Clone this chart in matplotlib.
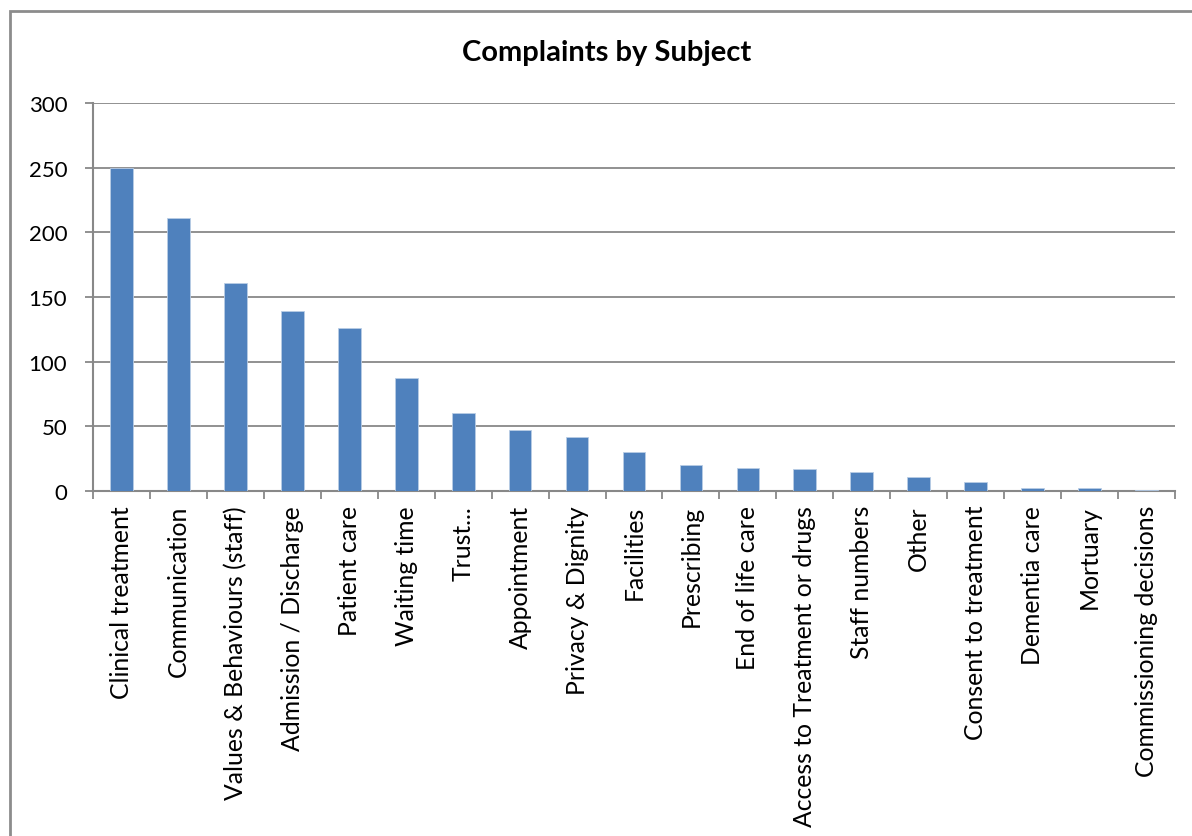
import matplotlib
matplotlib.use('Agg')
import matplotlib.pyplot as plt
import matplotlib.patches as mpatches
import numpy as np

# Complaint counts per subject, ordered largest first
subjects = [
    'Clinical treatment', 'Communication', 'Values & Behaviours (staff)',
    'Admission / Discharge', 'Patient care', 'Waiting time', 'Trust...',
    'Appointment', 'Privacy & Dignity', 'Facilities', 'Prescribing',
    'End of life care', 'Access to Treatment or drugs', 'Staff numbers',
    'Other', 'Consent to treatment', 'Dementia care', 'Mortuary',
    'Commissioning decisions',
]
counts = [250, 211, 161, 139, 126, 87, 60, 47, 42, 30, 20, 18, 17, 15, 11, 7, 2, 2, 1]
y_ticks = [0, 50, 100, 150, 200, 250, 300]

BAR_COLOR = '#4F81BD'
GRID_COLOR = '#888888'

plt.rcParams['font.family'] = ['Lato', 'DejaVu Sans']

W, H = 1192, 837
fig = plt.figure(figsize=(W / 100, H / 100), dpi=100)
fig.patch.set_facecolor('white')

# chart frame (only the left and top edges fall inside the image)
fig.patches.append(mpatches.Rectangle((10 / W, -0.1), 1.2, 1 - 12 / H + 0.1,
                                      transform=fig.transFigure, fill=False,
                                      edgecolor='#8c8c8c', linewidth=2.0))

ax = fig.add_axes([93 / W, 1 - 492 / H, (1175 - 93) / W, (492 - 104) / H])

x = np.arange(len(subjects))
ax.bar(x, counts, width=0.4, color=BAR_COLOR, edgecolor='#b9cde5',
       linewidth=0.6, zorder=3)

ax.set_xlim(-0.5, len(subjects) - 0.5)
ax.set_ylim(0, 300)
ax.set_yticks(y_ticks)
ax.set_yticklabels([str(v) for v in y_ticks], fontsize=16)
ax.yaxis.grid(True, color=GRID_COLOR, linewidth=1.3, zorder=0)

# category ticks sit between the bars, labels sit under each bar
ax.set_xticks(np.arange(len(subjects) + 1) - 0.5)
ax.set_xticklabels([])
ax.set_xticks(x, minor=True)
ax.set_xticklabels(subjects, minor=True, rotation=90, fontsize=17.8)
ax.tick_params(axis='x', which='minor', length=0, pad=10)
ax.tick_params(axis='x', which='major', length=6, width=1.3, color=GRID_COLOR,
               direction='out')
ax.tick_params(axis='y', length=6, width=1.3, color=GRID_COLOR, pad=12.5)

for side in ('top', 'right'):
    ax.spines[side].set_visible(False)
for side in ('left', 'bottom'):
    ax.spines[side].set_color(GRID_COLOR)
    ax.spines[side].set_linewidth(1.5)

fig.text(607 / W, 1 - 53 / H, 'Complaints by Subject', ha='center', va='center',
         fontsize=21, fontweight='bold')

fig.savefig('out.png', dpi=100)
